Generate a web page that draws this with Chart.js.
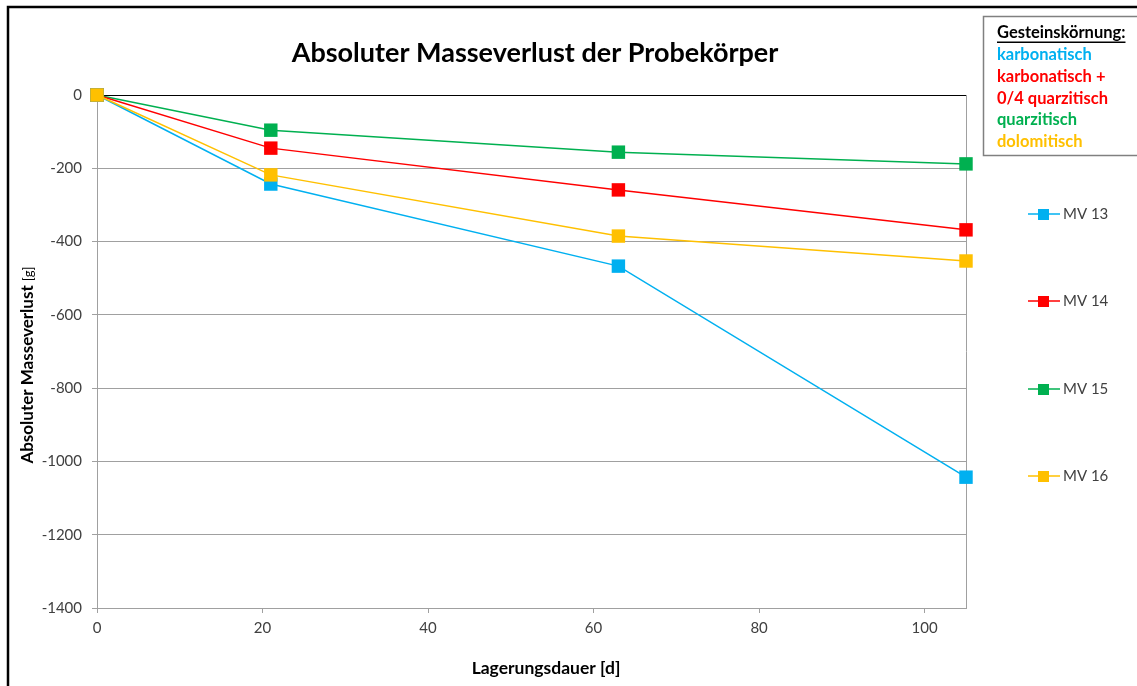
<!DOCTYPE html>
<html><head><meta charset="utf-8">
<script src="https://cdn.jsdelivr.net/npm/chart.js@4/dist/chart.umd.min.js"></script>
<style>html,body{margin:0;padding:0;background:#fff;overflow:hidden}#wrap{width:1137px;height:686px;position:relative}</style>
</head><body><div id="wrap"><canvas id="c" width="1137" height="686"></canvas></div>
<script>
const days = [0, 21, 63, 105];
const mv13 = [0, -243, -467, -1043];
const mv14 = [0, -145, -259, -368];
const mv15 = [0, -96, -156, -188];
const mv16 = [0, -218, -385, -453];
const seriesLabels = ['MV 13', 'MV 14', 'MV 15', 'MV 16'];
const seriesColors = ['#00B0F0', '#FF0000', '#00B050', '#FFC000'];
const xTickValues = [0, 20, 40, 60, 80, 100];
const yTickValues = [0, -200, -400, -600, -800, -1000, -1200, -1400];
const titleText = 'Absoluter Masseverlust der Probekörper';
const xTitleText = 'Lagerungsdauer [d]';
const yTitleMain = 'Absoluter Masseverlust';
const yTitleUnit = '[g]';
const noteHeading = 'Gesteinskörnung:';
const noteLines = ['karbonatisch', 'karbonatisch +', '0/4 quarzitisch', 'quarzitisch', 'dolomitisch'];
const noteColors = ['#00B0F0', '#FF0000', '#FF0000', '#00B050', '#FFC000'];

const FONT = 'Lato, "Open Sans", sans-serif';
const allSeries = [mv13, mv14, mv15, mv16];
const drawOrder = [1, 2, 3, 0];

const datasets = allSeries.map((s, i) => ({
  label: seriesLabels[i],
  data: days.map((d, j) => ({x: d, y: s[j]})),
  borderColor: seriesColors[i],
  backgroundColor: seriesColors[i],
  borderWidth: 1.5,
  pointStyle: 'rect',
  pointRadius: 9.5,
  pointHoverRadius: 9.5,
  pointBorderWidth: 0,
  tension: 0,
  clip: false,
  order: drawOrder[i]
}));

const decor = {
  id: 'decor',
  beforeDraw(chart) {
    const ctx = chart.ctx;
    ctx.save();
    ctx.fillStyle = '#fff';
    ctx.fillRect(0, 0, chart.width, chart.height);
    ctx.restore();
  },
  beforeDatasetsDraw(chart) {
    const ctx = chart.ctx;
    const a = chart.chartArea;
    ctx.save();
    ctx.strokeStyle = '#a0a0a0';
    ctx.lineWidth = 1;
    ctx.beginPath();
    ctx.moveTo(Math.round(a.right) + 0.5, a.top);
    ctx.lineTo(Math.round(a.right) + 0.5, a.bottom);
    ctx.stroke();
    ctx.restore();
  },
  afterDraw(chart) {
    const ctx = chart.ctx;
    ctx.save();
    // outer frame
    ctx.strokeStyle = '#000';
    ctx.lineWidth = 2.5;
    ctx.strokeRect(8, 7, chart.width + 20, chart.height + 20);
    // title
    ctx.fillStyle = '#000';
    ctx.textAlign = 'center';
    ctx.textBaseline = 'middle';
    ctx.font = 'bold 27px ' + FONT;
    ctx.fillText(titleText, 535, 53);
    // x title
    ctx.font = 'bold 17.5px ' + FONT;
    ctx.fillText(xTitleText, 546, 668);
    // y title (rotated)
    ctx.save();
    ctx.translate(28, 365);
    ctx.rotate(-Math.PI / 2);
    ctx.font = 'bold 17px ' + FONT;
    const w1 = ctx.measureText(yTitleMain + ' ').width;
    ctx.font = '13px ' + FONT;
    const w2 = ctx.measureText(yTitleUnit).width;
    const start = -(w1 + w2) / 2;
    ctx.textAlign = 'left';
    ctx.font = 'bold 17px ' + FONT;
    ctx.fillText(yTitleMain + ' ', start, 0);
    ctx.font = '13px ' + FONT;
    ctx.fillText(yTitleUnit, start + w1, 1);
    ctx.restore();
    // note box
    ctx.strokeStyle = '#808080';
    ctx.lineWidth = 1.5;
    ctx.strokeRect(983.5, 16.5, 170, 139);
    ctx.textAlign = 'left';
    ctx.textBaseline = 'middle';
    ctx.font = 'bold 16.5px ' + FONT;
    ctx.fillStyle = '#000';
    ctx.fillText(noteHeading, 997, 33);
    const hw = ctx.measureText(noteHeading).width;
    ctx.fillRect(997, 41.5, hw, 1.5);
    const lineYs = [55, 77, 99, 120, 142];
    noteLines.forEach((t, i) => {
      ctx.fillStyle = noteColors[i];
      ctx.fillText(t, 997, lineYs[i]);
    });
    // series legend
    const legYs = [214, 301, 389, 476];
    ctx.font = '15px ' + FONT;
    chart.data.datasets.forEach((ds, i) => {
      const y = legYs[i];
      ctx.strokeStyle = ds.borderColor;
      ctx.lineWidth = 1.5;
      ctx.beginPath();
      ctx.moveTo(1028, y);
      ctx.lineTo(1060, y);
      ctx.stroke();
      ctx.fillStyle = ds.backgroundColor;
      ctx.fillRect(1038, y - 5, 11, 11);
      ctx.fillStyle = '#404040';
      ctx.fillText(ds.label, 1063, y);
    });
    ctx.restore();
  }
};

new Chart(document.getElementById('c'), {
  type: 'line',
  data: {datasets},
  options: {
    responsive: false,
    animation: false,
    devicePixelRatio: 1,
    layout: {padding: {left: 0, top: 95, right: 171, bottom: 0}},
    plugins: {legend: {display: false}, title: {display: false}, tooltip: {enabled: false}},
    scales: {
      x: {
        type: 'linear', min: 0, max: 105,
        afterBuildTicks: s => { s.ticks = xTickValues.map(v => ({value: v})); },
        afterFit: s => { s.height = 78; },
        grid: {drawOnChartArea: false, tickLength: 5, tickColor: '#a0a0a0'},
        border: {color: '#a0a0a0', width: 1},
        ticks: {font: {family: FONT, size: 15}, color: '#404040', padding: 6, maxRotation: 0,
                callback: v => String(v)}
      },
      y: {
        type: 'linear', min: -1400, max: 0,
        afterBuildTicks: s => { s.ticks = yTickValues.map(v => ({value: v})); },
        afterFit: s => { s.width = 97; },
        grid: {
          color: c => (c.tick && c.tick.value === 0) ? '#000' : '#a0a0a0',
          tickLength: 5, tickColor: '#a0a0a0', lineWidth: 1
        },
        border: {color: '#a0a0a0', width: 1},
        ticks: {font: {family: FONT, size: 15}, color: '#404040', padding: 10,
                callback: v => String(v)}
      }
    }
  },
  plugins: [decor]
});
</script>
</body></html>
